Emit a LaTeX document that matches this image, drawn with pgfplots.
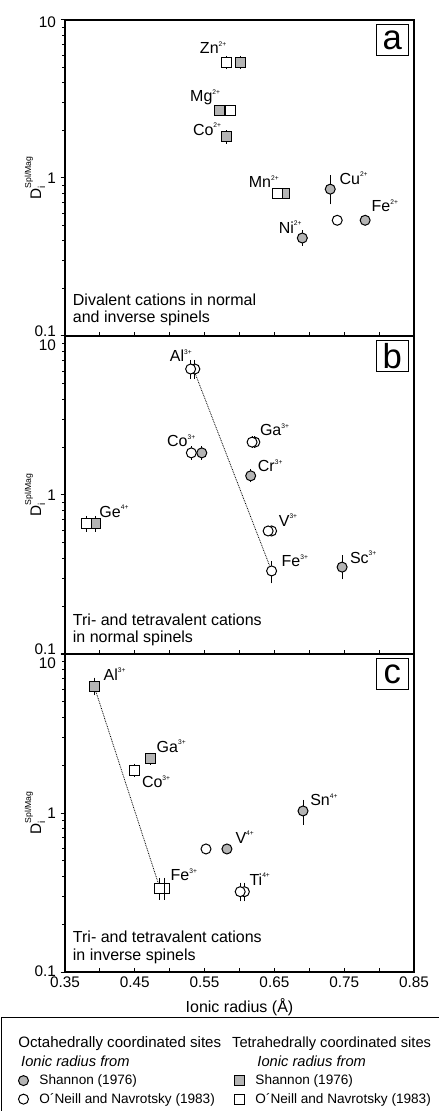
\documentclass[border=0pt]{standalone}
\usepackage{fontspec}
\setmainfont{Liberation Sans}
\usepackage{pgfplots}
\pgfplotsset{compat=1.18}
\definecolor{mgray}{RGB}{180,180,180}
\newcommand\sups[1]{\raisebox{5.5pt}{\fontsize{5}{5}\selectfont #1}}
\newcommand\ylab{D\rlap{\raisebox{-3pt}{\fontsize{7.5}{7.5}\selectfont i}}\raisebox{7.5pt}{\fontsize{6.5}{6.5}\selectfont Spl/Mag}}
\newcommand\lstrut{\rule{0pt}{8pt}\rule[-2.5pt]{0pt}{2.5pt}}
\newcommand\istrut{\rule{0pt}{8pt}\rule[-3.8pt]{0pt}{3.8pt}}
\pgfplotsset{
  octS/.style={only marks, mark=*, mark size=3.75pt, mark options={draw=black, line width=0.75pt, solid, fill=mgray}},
  octO/.style={only marks, mark=*, mark size=3.75pt, mark options={draw=black, line width=0.75pt, solid, fill=white}},
  tetS/.style={only marks, mark=square*, mark size=3.75pt, mark options={draw=black, line width=0.75pt, solid, fill=mgray}},
  tetO/.style={only marks, mark=square*, mark size=3.75pt, mark options={draw=black, line width=0.75pt, solid, fill=white}},
  bars/.style={only marks, mark=none, forget plot},
  tie/.style={black, line width=0.6pt, dash pattern=on 0.6pt off 0.7pt, mark=none},
  spinelaxis/.style={
    scale only axis, width=261.75pt,
    xmin=0.35, xmax=0.85, ymin=0.1, ymax=10,
    xtick={0.35,0.4,0.45,0.5,0.55,0.6,0.65,0.7,0.75,0.8,0.85},
    ytick={0.1,1,10},
    minor ytick={0.2,0.3,0.4,0.5,0.6,0.7,0.8,0.9,2,3,4,5,6,7,8,9},
    xtick pos=left, ytick pos=left,
    xtick align=inside, ytick align=outside,
    major tick length=3.2pt, minor tick length=2pt,
    axis line style={line width=1pt},
    tick style={black, line width=0.75pt},
    tick label style={font=\fontsize{11.5}{12}\selectfont},
    yticklabel style={anchor=east},
    ylabel style={font=\fontsize{11.5}{12}\selectfont, at={(axis description cs:-0.086,0.5)}, anchor=center},
    clip=false,
    error bars/error bar style={line width=0.7pt, black, solid},
    error bars/error mark options={line width=0.7pt, black, mark size=2.1pt},
  },
}
\tikzset{
  ionlab/.style={anchor=base west, inner sep=0pt, font=\fontsize{12}{12}\selectfont},
  panelnote/.style={anchor=base west, inner sep=0pt, font=\fontsize{12}{12}\selectfont},
  panelletter/.style={draw=black, line width=1pt, anchor=north east, minimum width=24pt, minimum height=23.25pt, inner sep=0pt, font=\fontsize{26}{26}\selectfont, xshift=-3.75pt, yshift=-3pt},
}
\begin{document}
\begin{tikzpicture}
% ---------------- panel a ----------------
\begin{semilogyaxis}[spinelaxis, height=237pt, at={(0pt,477pt)}, anchor=south west,
  xticklabels={}, ylabel={\ylab},
  yticklabels={{\raisebox{-0.1pt}[0pt][0pt]{0.1}},{1},{\raisebox{-5.6pt}[0pt][0pt]{10}}}]
\addplot[bars, error bars/.cd, y dir=both, y explicit] coordinates {(0.73,0.85) += (0,0.15) -= (0,0.14) (0.69,0.417) +- (0,0.03)};
\addplot[tetO] coordinates {(0.582,1.82)};
\addplot[tetS, error bars/.cd, y dir=both, y explicit] coordinates {(0.602,5.4) +- (0,0.3) (0.582,1.82) +- (0,0.1)};
\addplot[tetS] coordinates {(0.571,2.69) (0.664,0.80)};
\addplot[tetO, error bars/.cd, y dir=both, y explicit] coordinates {(0.581,5.4) +- (0,0.3)};
\addplot[tetO] coordinates {(0.587,2.69) (0.655,0.80)};
\addplot[octS] coordinates {(0.73,0.85) (0.69,0.417) (0.78,0.54)};
\addplot[octO] coordinates {(0.74,0.54)};
\node[ionlab] at (axis cs:0.543,6.15) {Zn\sups{2+}};
\node[ionlab] at (axis cs:0.529,3.04) {Mg\sups{2+}};
\node[ionlab] at (axis cs:0.533,1.87) {Co\sups{2+}};
\node[ionlab] at (axis cs:0.613,0.869) {Mn\sups{2+}};
\node[ionlab] at (axis cs:0.743,0.912) {Cu\sups{2+}};
\node[ionlab] at (axis cs:0.789,0.612) {Fe\sups{2+}};
\node[ionlab] at (axis cs:0.656,0.447) {Ni\sups{2+}};
\node[panelnote] at (axis cs:0.361,0.157) {Divalent cations in normal};
\node[panelnote] at (axis cs:0.361,0.1214) {and inverse spinels};
\node[panelletter] at (rel axis cs:1,1) {a};
\end{semilogyaxis}
% ---------------- panel b ----------------
\begin{semilogyaxis}[spinelaxis, height=238.5pt, at={(0pt,238.5pt)}, anchor=south west,
  xticklabels={}, ylabel={\ylab},
  yticklabels={{\raisebox{-0.1pt}[0pt][0pt]{0.1}},{1},{\raisebox{-10.6pt}[0pt][0pt]{10}}}]
\addplot[bars, error bars/.cd, y dir=both, y explicit] coordinates {(0.536,6.2) +- (0,0.6) (0.530,6.2) +- (0,0.6) (0.646,0.333) += (0,0.037) -= (0,0.043) (0.747,0.352) += (0,0.05) -= (0,0.045)};
\addplot[tetS, error bars/.cd, y dir=both, y explicit] coordinates {(0.393,0.66) +- (0,0.05)};
\addplot[tetO, error bars/.cd, y dir=both, y explicit] coordinates {(0.381,0.66) +- (0,0.05)};
\addplot[octS, error bars/.cd, y dir=both, y explicit] coordinates {(0.546,1.84) +- (0,0.1) (0.616,1.32) +- (0,0.07)};
\addplot[octS] coordinates {(0.747,0.352)};
\addplot[octO] coordinates {(0.536,6.2) (0.530,6.2) (0.646,0.333) (0.646,0.594) (0.641,0.594)};
\addplot[octO, error bars/.cd, y dir=both, y explicit] coordinates {(0.531,1.84) +- (0,0.1) (0.622,2.15) +- (0,0.1) (0.618,2.15) +- (0,0.1)};
\addplot[tie] coordinates {(0.534,6.2) (0.646,0.333)};
\node[ionlab] at (axis cs:0.500,6.89) {Al\sups{3+}};
\node[ionlab] at (axis cs:0.496,2.01) {Co\sups{3+}};
\node[ionlab] at (axis cs:0.629,2.35) {Ga\sups{3+}};
\node[ionlab] at (axis cs:0.626,1.40) {Cr\sups{3+}};
\node[ionlab] at (axis cs:0.656,0.638) {V\sups{3+}};
\node[ionlab] at (axis cs:0.660,0.354) {Fe\sups{3+}};
\node[ionlab] at (axis cs:0.758,0.372) {Sc\sups{3+}};
\node[ionlab] at (axis cs:0.399,0.724) {Ge\sups{4+}};
\node[panelnote] at (axis cs:0.361,0.152) {Tri- and tetravalent cations};
\node[panelnote] at (axis cs:0.361,0.1174) {in normal spinels};
\node[panelletter] at (rel axis cs:1,1) {b};
\end{semilogyaxis}
% ---------------- panel c ----------------
\begin{semilogyaxis}[spinelaxis, height=238.5pt, at={(0pt,0pt)}, anchor=south west,
  ylabel={\ylab},
  yticklabels={{\raisebox{-3.1pt}[0pt][0pt]{0.1}},{1},{\raisebox{-10.6pt}[0pt][0pt]{10}}},
  xticklabels={{0.35},{},{0.45},{},{0.55},{},{0.65},{},{0.75},{},{0.85}},
  xlabel={Ionic radius (Å)}, xlabel style={font=\fontsize{12}{12}\selectfont, yshift=-1.5pt},
  legend columns=2, legend cell align=left,
  legend image code/.code={\draw[#1] plot coordinates {(3.75pt,0pt)}; \path[draw=none, fill=none] (0pt,-3.75pt) rectangle (15.75pt,3.75pt);},
  legend style={at={(axis description cs:-0.1834,-0.1415)}, anchor=north west,
    draw=black, line width=0.75pt, inner xsep=12.75pt, inner ysep=14.6pt, row sep=4.4pt, column sep=0pt,
    nodes={inner sep=0pt},
    font=\fontsize{10.2}{12}\selectfont}]
\addlegendimage{empty legend}\addlegendentry{\makebox[146.25pt][l]{\lstrut\hspace*{-15.75pt}\fontsize{11.3}{12}\selectfont Octahedrally coordinated sites}}
\addlegendimage{empty legend}\addlegendentry{\lstrut\hspace*{-17.5pt}\fontsize{11}{12}\selectfont Tetrahedrally coordinated sites}
\addlegendimage{empty legend}\addlegendentry{\makebox[146.25pt][l]{\istrut\hspace*{-13.7pt}\fontsize{11}{12}\selectfont\itshape Ionic radius from}}
\addlegendimage{empty legend}\addlegendentry{\istrut\hspace*{1.5pt}\fontsize{11}{12}\selectfont\itshape Ionic radius from}
\addlegendimage{octS}\addlegendentry{\makebox[146.25pt][l]{\lstrut Shannon (1976)}}
\addlegendimage{tetS}\addlegendentry{\lstrut Shannon (1976)}
\addlegendimage{octO}\addlegendentry{\makebox[146.25pt][l]{\lstrut O´Neill and Navrotsky (1983)}}
\addlegendimage{tetO}\addlegendentry{\lstrut O´Neill and Navrotsky (1983)}
\addplot[bars, error bars/.cd, y dir=both, y explicit] coordinates {(0.392,6.23) += (0,0.6) -= (0,0.5) (0.492,0.336) +- (0,0.04) (0.486,0.336) +- (0,0.039) (0.607,0.32) +- (0,0.03) (0.601,0.32) +- (0,0.03) (0.691,1.03) += (0,0.13) -= (0,0.15)};
\addplot[tetS, forget plot] coordinates {(0.392,6.23)};
\addplot[tetS, forget plot, error bars/.cd, y dir=both, y explicit] coordinates {(0.472,2.19) +- (0,0.1)};
\addplot[tetO, forget plot, error bars/.cd, y dir=both, y explicit] coordinates {(0.450,1.86) +- (0,0.1)};
\addplot[tetO, forget plot] coordinates {(0.492,0.336) (0.486,0.336)};
\addplot[octO, forget plot] coordinates {(0.552,0.594) (0.607,0.32) (0.601,0.32)};
\addplot[octS, forget plot] coordinates {(0.582,0.594) (0.691,1.03)};
\addplot[tie, forget plot] coordinates {(0.392,6.23) (0.486,0.336)};
\node[ionlab] at (axis cs:0.405,6.86) {Al\sups{3+}};
\node[ionlab] at (axis cs:0.481,2.41) {Ga\sups{3+}};
\node[ionlab] at (axis cs:0.460,1.45) {Co\sups{3+}};
\node[ionlab] at (axis cs:0.701,1.11) {Sn\sups{4+}};
\node[ionlab] at (axis cs:0.594,0.645) {V\sups{4+}};
\node[ionlab] at (axis cs:0.501,0.375) {Fe\sups{3+}};
\node[ionlab] at (axis cs:0.614,0.352) {Ti\sups{4+}};
\node[panelnote] at (axis cs:0.361,0.154) {Tri- and tetravalent cations};
\node[panelnote] at (axis cs:0.361,0.1189) {in inverse spinels};
\node[panelletter] at (rel axis cs:1,1) {c};
\end{semilogyaxis}
\pgfresetboundingbox
\path (-48.75pt,-104.25pt) rectangle (280.5pt,729pt);
\end{tikzpicture}
\end{document}
